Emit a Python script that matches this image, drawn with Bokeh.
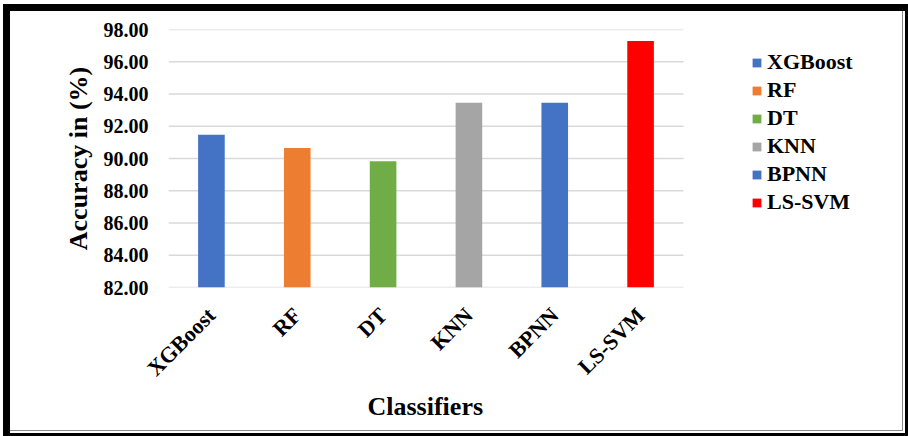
import math
from bokeh.plotting import figure
from bokeh.models import (ColumnDataSource, Range1d, FixedTicker,
                          NumeralTickFormatter, Legend, LegendItem,
                          InlineStyleSheet, Title)
from bokeh.embed import file_html
from bokeh.resources import INLINE

classifiers = ["XGBoost", "RF", "DT", "KNN", "BPNN", "LS-SVM"]
accuracy = [91.48, 90.65, 89.83, 93.45, 93.45, 97.28]
colors = ["#4472C4", "#ED7D31", "#70AD47", "#A5A5A5", "#4472C4", "#FF0000"]
y_ticks = [82, 84, 86, 88, 90, 92, 94, 96, 98]
y_min, y_max = 82, 98

FONT = "Liberation Serif"

n = len(classifiers)
positions = list(range(n))
src = ColumnDataSource(dict(pos=positions, classifier=classifiers,
                            accuracy=accuracy, color=colors))

# plot area 168..900 px wide; the categories occupy the left 515 px of it,
# the remaining space on the right holds the legend
x_end = n * (900 - 168) / 515 - 0.5

p = figure(width=908, height=436, x_range=Range1d(-0.5, x_end),
           y_range=Range1d(y_min, y_max), output_backend="svg",
           toolbar_location=None, tools="",
           min_border_left=168, min_border_right=8,
           min_border_top=29, min_border_bottom=149)

p.outline_line_color = None
p.background_fill_color = "white"
p.border_fill_color = "white"

border_css = """
:host { position: relative; }
:host::after {
  content: ""; position: absolute; left: 3px; top: 4px; right: 0px; bottom: 0px;
  box-sizing: border-box;
  border-left: 7px solid black; border-top: 7px solid black;
  border-right: 3px solid black; border-bottom: 3px solid black;
  box-shadow: inset -2px -2px 0 0 #ffffff, inset -3px -3px 0 0 #8a8a8a;
  pointer-events: none; z-index: 100;
}
"""
p.stylesheets = [InlineStyleSheet(css=border_css)]

# horizontal gridlines across the category area only
p.xgrid.grid_line_color = None
p.ygrid.grid_line_color = None
p.segment(x0=-0.5, x1=n - 0.5, y0=y_ticks, y1=y_ticks,
          line_color="#D9D9D9", line_width=1.5)

bars = p.vbar(x="pos", top="accuracy", bottom=y_min, width=0.31,
              color="color", line_color=None, source=src)

p.yaxis.ticker = FixedTicker(ticks=y_ticks)
p.yaxis.formatter = NumeralTickFormatter(format="0.00")
p.xaxis.ticker = FixedTicker(ticks=positions)
p.xaxis.major_label_overrides = {i: c for i, c in zip(positions, classifiers)}

for ax in (p.xaxis, p.yaxis):
    ax.axis_line_color = None
    ax.major_tick_line_color = None
    ax.minor_tick_line_color = None
    ax.major_tick_out = 0
    ax.major_tick_in = 0
    ax.minor_tick_out = 0
    ax.minor_tick_in = 0
    ax.major_label_text_font = FONT
    ax.major_label_text_font_style = "bold"
    ax.major_label_text_color = "black"
    ax.axis_label_text_font = FONT
    ax.axis_label_text_font_style = "bold"
    ax.axis_label_text_color = "black"

p.yaxis.major_label_text_font_size = "20px"
p.yaxis.major_label_standoff = 20
p.yaxis.axis_label = "Accuracy in (%)"
p.yaxis.axis_label_text_font_size = "26px"
p.yaxis.axis_label_standoff = 8

p.xaxis.major_label_text_font_size = "22px"
p.xaxis.major_label_orientation = math.pi / 4
p.xaxis.major_label_standoff = 24

# x-axis title, centred under the category area (not under the legend)
x_title = Title(text="Classifiers", align="left", offset=199, standoff=-6,
                text_font=FONT, text_font_size="26px", text_font_style="bold",
                text_color="black")
p.add_layout(x_title, "below")

items = [LegendItem(label=c, renderers=[bars], index=i) for i, c in enumerate(classifiers)]
legend = Legend(items=items, location=(583, 72))
legend.border_line_color = None
legend.background_fill_alpha = 0
legend.padding = 5
legend.margin = 0
legend.spacing = 2
legend.glyph_width = 11
legend.glyph_height = 11
legend.label_height = 20
legend.label_standoff = 5
legend.label_text_font = FONT
legend.label_text_font_style = "bold"
legend.label_text_font_size = "22px"
legend.label_text_color = "black"
p.add_layout(legend)

open("out.html", "w").write(file_html(p, INLINE))
